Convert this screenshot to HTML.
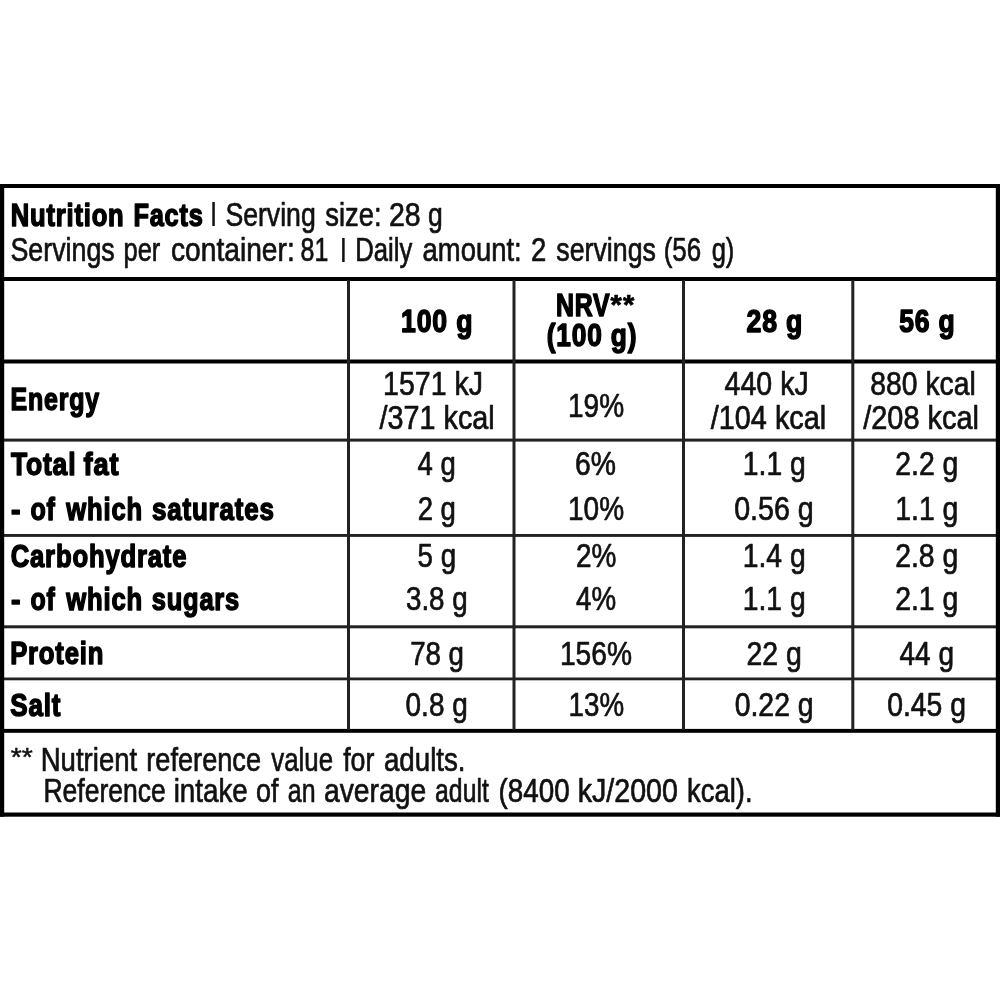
<!DOCTYPE html>
<html lang="en"><head><meta charset="utf-8"><title>Nutrition Facts</title>
<style>
html,body{margin:0;padding:0;background:#fff;overflow:hidden;}
body{position:relative;width:1000px;height:1000px;overflow:hidden;}
svg{display:block;position:absolute;left:-10px;top:0;will-change:transform;filter:grayscale(1);}
text{font-family:"Liberation Sans",sans-serif;font-size:33px;fill:#111;stroke:#111;stroke-width:0.7;stroke-linejoin:round;}
.b{font-weight:bold;font-size:31.5px;stroke-width:1.5;fill:#000;stroke:#000;letter-spacing:1px;}
.bar{font-size:26.7px;stroke-width:0.2;}
.ast{font-size:25.5px;stroke-width:0.5;}
.astb{font-size:27px;stroke-width:0.7;}
</style></head><body>
<svg width="1020" height="1000" viewBox="-10 0 1020 1000">
<g>
<rect x="-10" y="184" width="1020" height="4" fill="#000"/>
<rect x="-10" y="812.5" width="1020" height="4.2" fill="#000"/>
<rect x="-10" y="277" width="1020" height="4" fill="#000"/>
<rect x="-10" y="359.5" width="1020" height="4" fill="#000"/>
<rect x="-10" y="728.9" width="1020" height="3.9" fill="#000"/>
<rect x="-10" y="438.6" width="1020" height="3" fill="#222"/>
<rect x="-10" y="534" width="1020" height="2.9" fill="#222"/>
<rect x="-10" y="625.3" width="1020" height="3" fill="#222"/>
<rect x="-10" y="677.5" width="1020" height="2.8" fill="#222"/>
<rect x="-10" y="184" width="14.2" height="632.7" fill="#000"/>
<rect x="995.8" y="184" width="14.2" height="632.7" fill="#000"/>
<rect x="347" y="280" width="3" height="450" fill="#222"/>
<rect x="512.5" y="280" width="3" height="450" fill="#222"/>
<rect x="682" y="280" width="3" height="450" fill="#222"/>
<rect x="851.3" y="280" width="3" height="450" fill="#222"/>
</g>
<g>
<text><tspan x="10.77" y="225.50" textLength="113.74" lengthAdjust="spacingAndGlyphs" class="b">Nutrition</tspan> <tspan x="133.43" y="225.50" textLength="70.24" lengthAdjust="spacingAndGlyphs" class="b">Facts</tspan> <tspan x="209.71" y="221.35" textLength="7.64" lengthAdjust="spacingAndGlyphs" class="bar">|</tspan> <tspan x="225.39" y="225.90" textLength="90.38" lengthAdjust="spacingAndGlyphs">Serving</tspan> <tspan x="325.31" y="225.90" textLength="56.24" lengthAdjust="spacingAndGlyphs">size:</tspan> <tspan x="388.88" y="225.90" textLength="31.70" lengthAdjust="spacingAndGlyphs">28</tspan> <tspan x="427.88" y="225.90" textLength="14.73" lengthAdjust="spacingAndGlyphs">g</tspan></text>
<text><tspan x="10.46" y="261.40" textLength="104.27" lengthAdjust="spacingAndGlyphs">Servings</tspan> <tspan x="123.54" y="261.40" textLength="36.82" lengthAdjust="spacingAndGlyphs">per</tspan> <tspan x="171.00" y="261.40" textLength="123.73" lengthAdjust="spacingAndGlyphs">container:</tspan> <tspan x="300.62" y="261.40" textLength="27.77" lengthAdjust="spacingAndGlyphs">81</tspan> <tspan x="339.43" y="256.85" textLength="7.72" lengthAdjust="spacingAndGlyphs" class="bar">|</tspan> <tspan x="355.23" y="261.40" textLength="57.05" lengthAdjust="spacingAndGlyphs">Daily</tspan> <tspan x="422.60" y="261.40" textLength="99.08" lengthAdjust="spacingAndGlyphs">amount:</tspan> <tspan x="530.97" y="261.40" textLength="15.29" lengthAdjust="spacingAndGlyphs">2</tspan> <tspan x="556.36" y="261.40" textLength="99.56" lengthAdjust="spacingAndGlyphs">servings</tspan> <tspan x="663.66" y="261.40" textLength="37.48" lengthAdjust="spacingAndGlyphs">(56</tspan> <tspan x="711.64" y="261.40" textLength="22.72" lengthAdjust="spacingAndGlyphs">g)</tspan></text>
<text><tspan x="401.08" y="331.75" textLength="72.29" lengthAdjust="spacingAndGlyphs" class="b">100 g</tspan></text>
<text><tspan x="555.88" y="315.50" textLength="54.50" lengthAdjust="spacingAndGlyphs" class="b">NRV</tspan><tspan x="610.64" y="313.50" textLength="24.67" lengthAdjust="spacingAndGlyphs" class="b astb">**</tspan></text>
<text><tspan x="546.73" y="345.50" textLength="90.51" lengthAdjust="spacingAndGlyphs" class="b">(100 g)</tspan></text>
<text><tspan x="746.55" y="331.75" textLength="56.67" lengthAdjust="spacingAndGlyphs" class="b">28 g</tspan> <tspan x="899.22" y="331.75" textLength="56.36" lengthAdjust="spacingAndGlyphs" class="b">56 g</tspan></text>
<text><tspan x="10.52" y="410.25" textLength="89.47" lengthAdjust="spacingAndGlyphs" class="b">Energy</tspan></text>
<text><tspan x="383.12" y="394.90" textLength="99.87" lengthAdjust="spacingAndGlyphs">1571 kJ</tspan></text>
<text><tspan x="379.60" y="428.65" textLength="115.09" lengthAdjust="spacingAndGlyphs">/371 kcal</tspan></text>
<text><tspan x="567.98" y="417.40" textLength="56.12" lengthAdjust="spacingAndGlyphs">19%</tspan></text>
<text><tspan x="724.59" y="394.90" textLength="84.19" lengthAdjust="spacingAndGlyphs">440 kJ</tspan></text>
<text><tspan x="710.73" y="428.65" textLength="115.54" lengthAdjust="spacingAndGlyphs">/104 kcal</tspan></text>
<text><tspan x="870.36" y="394.90" textLength="105.35" lengthAdjust="spacingAndGlyphs">880 kcal</tspan></text>
<text><tspan x="863.19" y="428.65" textLength="115.88" lengthAdjust="spacingAndGlyphs">/208 kcal</tspan></text>
<text><tspan x="10.88" y="474.55" textLength="65.49" lengthAdjust="spacingAndGlyphs" class="b">Total</tspan> <tspan x="83.60" y="474.55" textLength="35.81" lengthAdjust="spacingAndGlyphs" class="b">fat</tspan> <tspan x="417.62" y="474.95" textLength="38.21" lengthAdjust="spacingAndGlyphs">4 g</tspan> <tspan x="575.10" y="474.95" textLength="41.00" lengthAdjust="spacingAndGlyphs">6%</tspan> <tspan x="742.81" y="474.95" textLength="63.00" lengthAdjust="spacingAndGlyphs">1.1 g</tspan> <tspan x="895.21" y="474.95" textLength="63.19" lengthAdjust="spacingAndGlyphs">2.2 g</tspan></text>
<text><tspan x="11.12" y="519.50" textLength="10.40" lengthAdjust="spacingAndGlyphs" class="b">-</tspan> <tspan x="30.43" y="519.50" textLength="25.18" lengthAdjust="spacingAndGlyphs" class="b">of</tspan> <tspan x="66.37" y="519.50" textLength="76.62" lengthAdjust="spacingAndGlyphs" class="b">which</tspan> <tspan x="151.99" y="519.50" textLength="122.73" lengthAdjust="spacingAndGlyphs" class="b">saturates</tspan> <tspan x="417.68" y="519.90" textLength="38.25" lengthAdjust="spacingAndGlyphs">2 g</tspan> <tspan x="567.98" y="519.90" textLength="56.12" lengthAdjust="spacingAndGlyphs">10%</tspan> <tspan x="734.13" y="519.90" textLength="79.67" lengthAdjust="spacingAndGlyphs">0.56 g</tspan> <tspan x="895.23" y="519.90" textLength="63.17" lengthAdjust="spacingAndGlyphs">1.1 g</tspan></text>
<text><tspan x="10.66" y="566.70" textLength="176.66" lengthAdjust="spacingAndGlyphs" class="b">Carbohydrate</tspan> <tspan x="417.61" y="567.10" textLength="38.55" lengthAdjust="spacingAndGlyphs">5 g</tspan> <tspan x="575.88" y="567.10" textLength="40.38" lengthAdjust="spacingAndGlyphs">2%</tspan> <tspan x="742.73" y="567.10" textLength="62.97" lengthAdjust="spacingAndGlyphs">1.4 g</tspan> <tspan x="895.19" y="567.10" textLength="63.17" lengthAdjust="spacingAndGlyphs">2.8 g</tspan></text>
<text><tspan x="11.05" y="609.75" textLength="10.41" lengthAdjust="spacingAndGlyphs" class="b">-</tspan> <tspan x="30.47" y="609.75" textLength="25.03" lengthAdjust="spacingAndGlyphs" class="b">of</tspan> <tspan x="66.30" y="609.75" textLength="76.71" lengthAdjust="spacingAndGlyphs" class="b">which</tspan> <tspan x="151.79" y="609.75" textLength="88.23" lengthAdjust="spacingAndGlyphs" class="b">sugars</tspan> <tspan x="405.99" y="610.15" textLength="61.70" lengthAdjust="spacingAndGlyphs">3.8 g</tspan> <tspan x="576.01" y="610.15" textLength="40.07" lengthAdjust="spacingAndGlyphs">4%</tspan> <tspan x="742.73" y="610.15" textLength="62.97" lengthAdjust="spacingAndGlyphs">1.1 g</tspan> <tspan x="895.19" y="610.15" textLength="63.17" lengthAdjust="spacingAndGlyphs">2.1 g</tspan></text>
<text><tspan x="10.14" y="664.25" textLength="94.07" lengthAdjust="spacingAndGlyphs" class="b">Protein</tspan> <tspan x="410.17" y="664.65" textLength="53.86" lengthAdjust="spacingAndGlyphs">78 g</tspan> <tspan x="559.88" y="664.65" textLength="72.06" lengthAdjust="spacingAndGlyphs">156%</tspan> <tspan x="746.42" y="664.65" textLength="55.38" lengthAdjust="spacingAndGlyphs">22 g</tspan> <tspan x="899.53" y="664.65" textLength="54.54" lengthAdjust="spacingAndGlyphs">44 g</tspan></text>
<text><tspan x="10.29" y="715.65" textLength="51.02" lengthAdjust="spacingAndGlyphs" class="b">Salt</tspan> <tspan x="405.58" y="716.05" textLength="62.16" lengthAdjust="spacingAndGlyphs">0.8 g</tspan> <tspan x="568.54" y="716.05" textLength="55.51" lengthAdjust="spacingAndGlyphs">13%</tspan> <tspan x="734.68" y="716.05" textLength="78.96" lengthAdjust="spacingAndGlyphs">0.22 g</tspan> <tspan x="887.17" y="716.05" textLength="78.84" lengthAdjust="spacingAndGlyphs">0.45 g</tspan></text>
<text><tspan x="10.83" y="766.10" textLength="21.97" lengthAdjust="spacingAndGlyphs" class="ast">**</tspan> <tspan x="40.70" y="770.90" textLength="96.53" lengthAdjust="spacingAndGlyphs">Nutrient</tspan> <tspan x="146.30" y="770.90" textLength="114.77" lengthAdjust="spacingAndGlyphs">reference</tspan> <tspan x="271.31" y="770.90" textLength="61.75" lengthAdjust="spacingAndGlyphs">value</tspan> <tspan x="343.16" y="770.90" textLength="31.20" lengthAdjust="spacingAndGlyphs">for</tspan> <tspan x="383.90" y="770.90" textLength="81.67" lengthAdjust="spacingAndGlyphs">adults.</tspan></text>
<text><tspan x="43.40" y="801.65" textLength="122.37" lengthAdjust="spacingAndGlyphs">Reference</tspan> <tspan x="173.63" y="801.65" textLength="74.22" lengthAdjust="spacingAndGlyphs">intake</tspan> <tspan x="256.03" y="801.65" textLength="22.44" lengthAdjust="spacingAndGlyphs">of</tspan> <tspan x="287.81" y="801.65" textLength="27.71" lengthAdjust="spacingAndGlyphs">an</tspan> <tspan x="323.89" y="801.65" textLength="102.35" lengthAdjust="spacingAndGlyphs">average</tspan> <tspan x="435.10" y="801.65" textLength="53.68" lengthAdjust="spacingAndGlyphs">adult</tspan> <tspan x="498.53" y="801.65" textLength="71.10" lengthAdjust="spacingAndGlyphs">(8400</tspan> <tspan x="577.67" y="801.65" textLength="100.26" lengthAdjust="spacingAndGlyphs">kJ/2000</tspan> <tspan x="687.11" y="801.65" textLength="65.38" lengthAdjust="spacingAndGlyphs">kcal).</tspan></text>
</g>
</svg>
</body></html>
